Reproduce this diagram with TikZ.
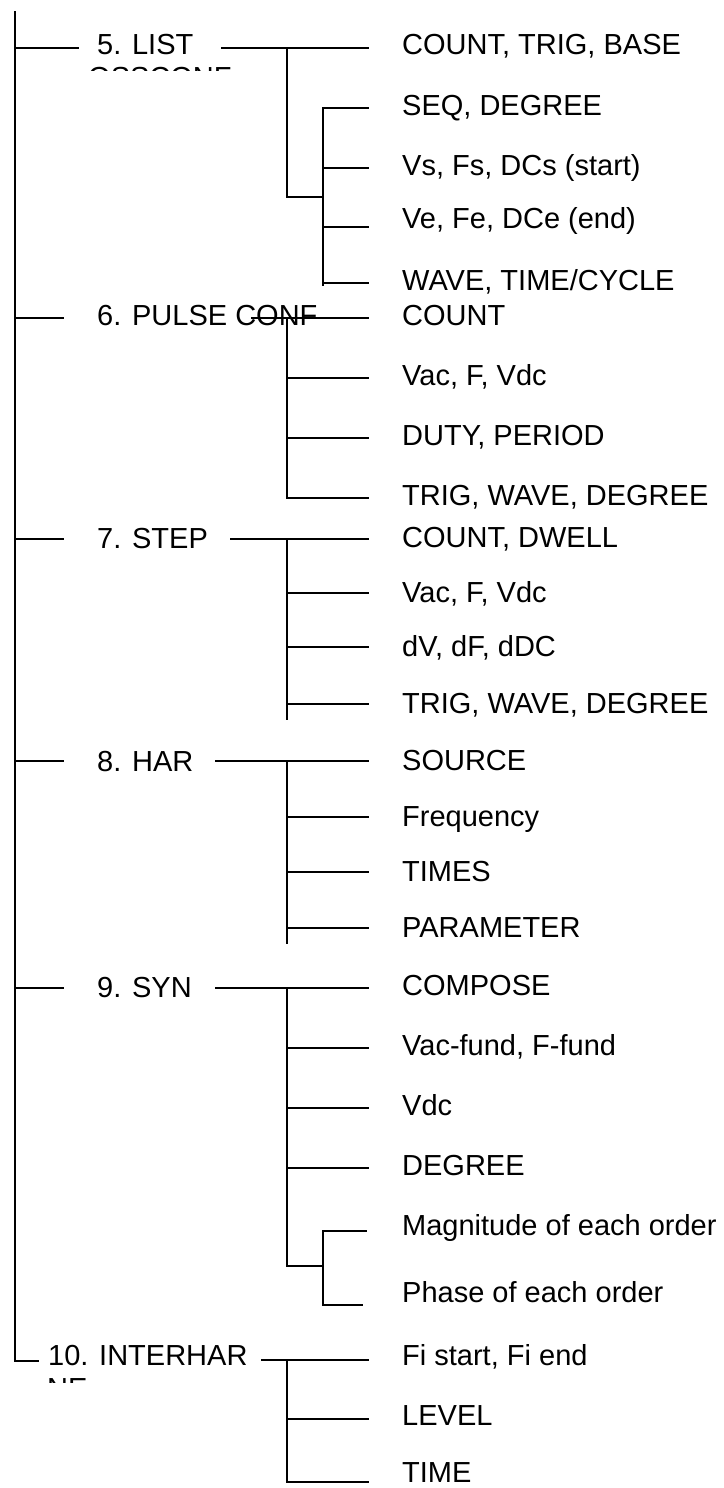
\documentclass[tikz,border=0pt]{standalone}
\usepackage{fontspec}
\setmainfont{Liberation Sans}
\begin{document}
\begin{tikzpicture}[x=1pt,y=-1pt,
  lbl/.style={anchor=base west, inner sep=0pt, font=\fontsize{29}{33}\selectfont},
  link/.style={draw=black, line width=1.8pt, line cap=rect}]
\useasboundingbox (0,0) rectangle (723,1488);
% ---------- parent labels ----------
\node[lbl] (p5) at (97,55) {5. LIST};
\begin{scope}
  \clip (80,60) rectangle (240,71);
  \node[lbl] (p5b) at (88,88) {OSSCONF};
\end{scope}
\node[lbl] (p6) at (97,325) {6. PULSE CONF};
\node[lbl] (p7) at (97,548) {7. STEP};
\node[lbl] (p8) at (97,771) {8. HAR};
\node[lbl] (p9) at (97,997) {9. SYN};
\node[lbl] (p10) at (48,1365) {10. INTERHAR};
\begin{scope}
  \clip (40,1370) rectangle (120,1382);
  \node[lbl] (p10b) at (47,1398) {NE};
\end{scope}
% ---------- children ----------
\node[lbl] (c5a) at (402,55) {COUNT, TRIG, BASE};
\node[lbl] (c5b) at (402,115) {SEQ, DEGREE};
\node[lbl] (c5c) at (402,175) {Vs, Fs, DCs (start)};
\node[lbl] (c5d) at (402,228) {Ve, Fe, DCe (end)};
\node[lbl] (c5e) at (402,290) {WAVE, TIME/CYCLE};
\node[lbl] (c6a) at (402,325) {COUNT};
\node[lbl] (c6b) at (402,385) {Vac, F, Vdc};
\node[lbl] (c6c) at (402,445) {DUTY, PERIOD};
\node[lbl] (c6d) at (402,505) {TRIG, WAVE, DEGREE};
\node[lbl] (c7a) at (402,547) {COUNT, DWELL};
\node[lbl] (c7b) at (402,602) {Vac, F, Vdc};
\node[lbl] (c7c) at (402,656) {dV, dF, dDC};
\node[lbl] (c7d) at (402,713) {TRIG, WAVE, DEGREE};
\node[lbl] (c8a) at (402,770) {SOURCE};
\node[lbl] (c8b) at (402,826) {Frequency};
\node[lbl] (c8c) at (402,881) {TIMES};
\node[lbl] (c8d) at (402,937) {PARAMETER};
\node[lbl] (c9a) at (402,995) {COMPOSE};
\node[lbl] (c9b) at (402,1055) {Vac-fund, F-fund};
\node[lbl] (c9c) at (402,1115) {Vdc};
\node[lbl] (c9d) at (402,1175) {DEGREE};
\node[lbl] (c9e) at (402,1235) {Magnitude of each order};
\node[lbl] (c9f) at (402,1302) {Phase of each order};
\node[lbl] (c10a) at (402,1365) {Fi start, Fi end};
\node[lbl] (c10b) at (402,1425) {LEVEL};
\node[lbl] (c10c) at (402,1482) {TIME};
% ---------- main spine ----------
\coordinate (top) at (15,12);
\coordinate (bot) at (15,1361);
\coordinate (end10) at (38,1361);
\draw[link] (top) -- (bot) -- (end10);
\draw[link] (15,48) -- (78,48);
\draw[link] (15,318) -- (63,318);
\draw[link] (15,539) -- (63,539);
\draw[link] (15,761) -- (63,761);
\draw[link] (15,988) -- (63,988);
% ---------- 5. LIST ----------
\draw[link] (222,48) -- (368,48);
\draw[link] (287,48) -- (287,197) -- (323,197);
\draw[link] (323,108) -- (323,285);
\draw[link] (323,108) -- (368,108);
\draw[link] (323,168) -- (368,168);
\draw[link] (323,227) -- (368,227);
\draw[link] (323,283) -- (368,283);
% ---------- 6. PULSE CONF ----------
\draw[link] (252,318) -- (368,318);
\draw[link] (287,318) -- (287,498);
\draw[link] (287,378) -- (368,378);
\draw[link] (287,438) -- (368,438);
\draw[link] (287,498) -- (368,498);
% ---------- 7. STEP ----------
\draw[link] (231,539) -- (368,539);
\draw[link] (287,539) -- (287,719);
\draw[link] (287,593) -- (368,593);
\draw[link] (287,647) -- (368,647);
\draw[link] (287,704) -- (368,704);
% ---------- 8. HAR ----------
\draw[link] (216,761) -- (368,761);
\draw[link] (287,761) -- (287,943);
\draw[link] (287,817) -- (368,817);
\draw[link] (287,872) -- (368,872);
\draw[link] (287,928) -- (368,928);
% ---------- 9. SYN ----------
\draw[link] (216,988) -- (368,988);
\draw[link] (287,988) -- (287,1266) -- (323,1266);
\draw[link] (287,1048) -- (368,1048);
\draw[link] (287,1108) -- (368,1108);
\draw[link] (287,1168) -- (368,1168);
\draw[link] (323,1231) -- (323,1305);
\draw[link] (323,1231) -- (366,1231);
\draw[link] (323,1305) -- (362,1305);
% ---------- 10. INTERHAR ----------
\draw[link] (262,1360) -- (368,1360);
\draw[link] (287,1360) -- (287,1482);
\draw[link] (287,1419) -- (368,1419);
\draw[link] (287,1482) -- (368,1482);
\end{tikzpicture}
\end{document}
